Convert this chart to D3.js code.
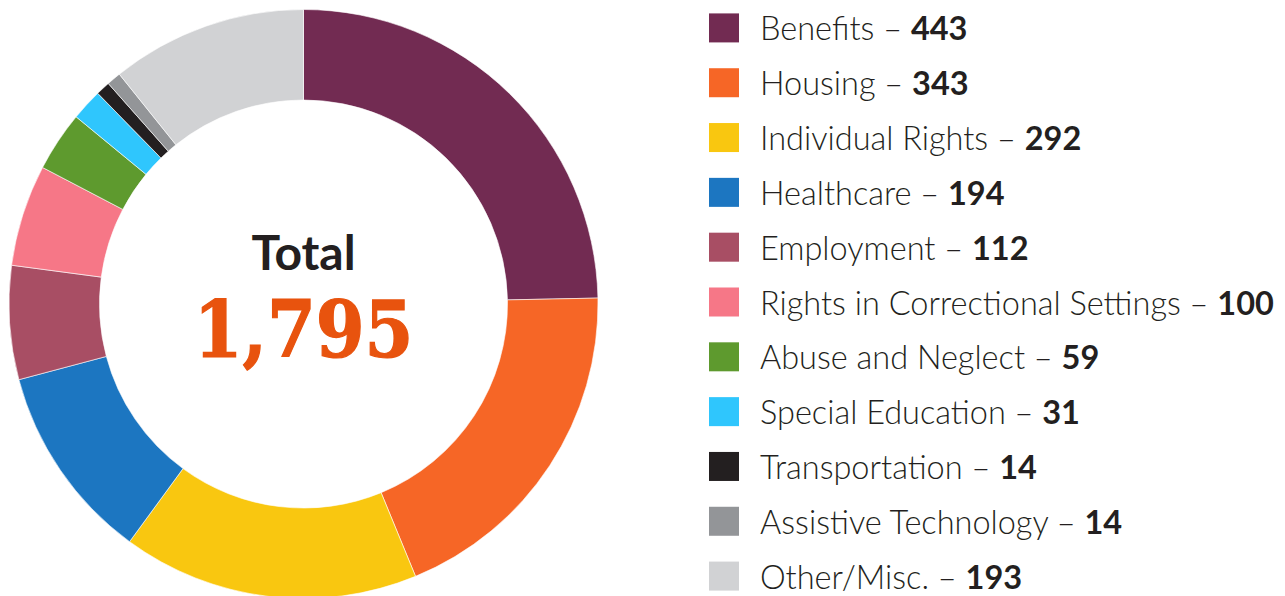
<!DOCTYPE html>
<html>
<head>
<meta charset="utf-8">
<script src="https://cdn.jsdelivr.net/npm/d3@7"></script>
<style>
  body { margin: 0; background: #fff; }
  svg { display: block; }
</style>
</head>
<body>
<svg width="1285" height="596"></svg>
<script>
// data
var categories = ["Benefits", "Housing", "Individual Rights", "Healthcare", "Employment",
  "Rights in Correctional Settings", "Abuse and Neglect", "Special Education",
  "Transportation", "Assistive Technology", "Other/Misc."];
var values = [443, 343, 292, 194, 112, 100, 59, 31, 14, 14, 193];
var colors = ["#722b52", "#f66626", "#f9c710", "#1c76c1", "#a84e64", "#f67787",
  "#5e9a2e", "#2fc6fd", "#231f20", "#939598", "#d1d2d4"];
var totalLabel = "Total";

var svg = d3.select("svg");
var cx = 303.5, cy = 304, outerR = 294.5, innerR = 204;

var rows = categories.map(function(c, i) { return {name: c, value: values[i], color: colors[i]}; });

var pie = d3.pie().sort(null).value(function(d) { return d.value; });
var arc = d3.arc().innerRadius(innerR).outerRadius(outerR);

var g = svg.append("g").attr("transform", "translate(" + cx + "," + cy + ")");

g.selectAll("path")
  .data(pie(rows))
  .enter()
  .append("path")
  .attr("d", arc)
  .attr("fill", function(d) { return d.data.color; })
  .attr("stroke", "#fff")
  .attr("stroke-width", 0.6);

// centre text
var total = d3.sum(values);
g.append("text")
  .attr("x", 0).attr("y", -34)
  .attr("text-anchor", "middle")
  .style("font-family", "Lato, sans-serif")
  .style("font-weight", 700)
  .style("font-size", "48px")
  .attr("fill", "#231f20")
  .text(totalLabel);

g.append("text")
  .attr("x", 0).attr("y", 53)
  .attr("text-anchor", "middle")
  .style("font-family", "'DejaVu Serif Condensed', 'DejaVu Serif', serif")
  .style("font-stretch", "condensed")
  .style("font-weight", 700)
  .style("font-size", "78px")
  .attr("fill", "#e8530e")
  .attr("stroke", "#e8530e")
  .attr("stroke-width", 1.2)
  .text(d3.format(",")(total));

// legend
var y = d3.scaleBand()
  .domain(categories)
  .range([1, 604])
  .paddingInner(0);

var legend = svg.selectAll(".leg")
  .data(rows)
  .enter()
  .append("g")
  .attr("class", "leg")
  .attr("transform", function(d) { return "translate(709," + (y(d.name) + y.bandwidth() / 2) + ")"; });

legend.append("rect")
  .attr("x", 0).attr("y", -15)
  .attr("width", 30).attr("height", 29)
  .attr("fill", function(d) { return d.color; });

var txt = legend.append("text")
  .attr("x", 51).attr("y", 12)
  .style("font-family", "Lato, sans-serif")
  .style("font-size", "32.5px")
  .attr("fill", "#231f20");

txt.append("tspan")
  .style("font-weight", 300)
  .text(function(d) { return d.name + " \u2013 "; });
txt.append("tspan")
  .style("font-weight", 700)
  .text(function(d) { return d.value; });
</script>
</body>
</html>
